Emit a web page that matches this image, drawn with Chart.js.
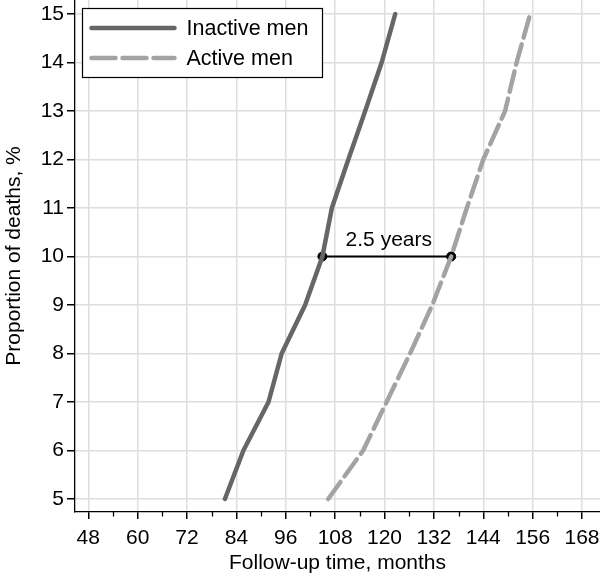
<!DOCTYPE html>
<html>
<head>
<meta charset="utf-8">
<script src="https://cdn.jsdelivr.net/npm/chart.js@4/dist/chart.umd.min.js"></script>
<style>
  html, body { margin: 0; padding: 0; background: #fff; }
  #wrap { width: 600px; height: 576px; position: relative; }
</style>
</head>
<body>
<div id="wrap"><canvas id="c" width="600" height="576"></canvas></div>
<script>
// ---- data ----
const proportions = [5, 6, 7, 8, 9, 10, 11, 12, 13, 14, 15];
const inactiveMonths = [81.2, 85.7, 91.8, 95.0, 100.7, 104.9, 107.2, 111.2, 115.3, 119.3, 122.6];
const activeMonths   = [106.3, 114.8, 120.5, 126.2, 131.6, 136.2, 140.0, 144.0, 149.3, 152.1, 155.4];
const seriesNames = ['Inactive men', 'Active men'];
const gapLevel = 10;
const gapLabel = '2.5 years';
const xMajorTicks = [48, 60, 72, 84, 96, 108, 120, 132, 144, 156, 168];
const xMinorTicks = [54, 66, 78, 90, 102, 114, 126, 138, 150, 162];
const yTicks = [5, 6, 7, 8, 9, 10, 11, 12, 13, 14, 15];
const xTitle = 'Follow-up time, months';
const yTitle = 'Proportion of deaths, %';

const FONT = "'Liberation Sans', Arial, Helvetica, sans-serif";
const DARK = '#666666';
const LIGHT = '#a3a3a3';
const GRID = '#dedede';

const toPts = (xs) => xs.map((x, i) => ({ x: x, y: proportions[i] }));
const gapIdx = proportions.indexOf(gapLevel);
const gapPts = [
  { x: inactiveMonths[gapIdx], y: gapLevel },
  { x: activeMonths[gapIdx], y: gapLevel }
];

const extrasPlugin = {
  id: 'extras',
  afterDatasetsDraw(chart) {
    const ctx = chart.ctx;
    const xs = chart.scales.x, ys = chart.scales.y;
    const area = chart.chartArea;
    ctx.save();
    // minor ticks on x axis
    ctx.strokeStyle = '#000';
    ctx.lineWidth = 1.3;
    xMinorTicks.forEach(v => {
      const px = Math.round(xs.getPixelForValue(v)) + 0.5;
      ctx.beginPath();
      ctx.moveTo(px, area.bottom);
      ctx.lineTo(px, area.bottom + 4.5);
      ctx.stroke();
    });
    // gap label
    const x1 = xs.getPixelForValue(gapPts[0].x);
    const x2 = xs.getPixelForValue(gapPts[1].x);
    const yp = ys.getPixelForValue(gapLevel);
    ctx.fillStyle = '#000';
    ctx.font = '21px ' + FONT;
    ctx.textAlign = 'center';
    ctx.textBaseline = 'alphabetic';
    ctx.fillText(gapLabel, (x1 + x2) / 2 + 2, yp - 11);
    // legend box
    const bx = area.left + 7.5, by = 8.5, bw = 240, bh = 69;
    ctx.fillStyle = '#fff';
    ctx.fillRect(bx, by, bw, bh);
    ctx.strokeStyle = '#000';
    ctx.lineWidth = 1.2;
    ctx.strokeRect(bx, by, bw, bh);
    const rows = [
      { name: seriesNames[0], color: DARK, dash: [] , y: by + 19.5 },
      { name: seriesNames[1], color: LIGHT, dash: [24, 7], y: by + 49.5 }
    ];
    rows.forEach(r => {
      ctx.strokeStyle = r.color;
      ctx.lineWidth = 4.5;
      ctx.lineCap = 'round';
      ctx.setLineDash(r.dash);
      ctx.beginPath();
      ctx.moveTo(bx + 9, r.y);
      ctx.lineTo(bx + 92, r.y);
      ctx.stroke();
      ctx.setLineDash([]);
      ctx.fillStyle = '#000';
      ctx.textAlign = 'left';
      ctx.textBaseline = 'middle';
      ctx.font = '21.5px ' + FONT;
      ctx.fillText(r.name, bx + 104, r.y + 1);
    });
    ctx.restore();
  }
};

new Chart(document.getElementById('c'), {
  type: 'line',
  data: {
    datasets: [
      {
        label: seriesNames[0],
        data: toPts(inactiveMonths),
        borderColor: DARK,
        borderWidth: 4.5,
        borderCapStyle: 'round',
        borderJoinStyle: 'round',
        pointRadius: 0,
        fill: false,
        tension: 0
      },
      {
        label: seriesNames[1],
        data: toPts(activeMonths),
        borderColor: LIGHT,
        borderWidth: 4.5,
        borderDash: [21, 7],
        borderCapStyle: 'round',
        borderJoinStyle: 'round',
        pointRadius: 0,
        fill: false,
        tension: 0
      },
      {
        label: 'gap',
        data: gapPts,
        borderColor: '#000',
        borderWidth: 2.2,
        pointRadius: 4.5,
        pointBackgroundColor: '#000',
        pointBorderColor: '#000',
        pointBorderWidth: 1,
        fill: false
      }
    ]
  },
  options: {
    responsive: false,
    animation: false,
    devicePixelRatio: 1,
    layout: { autoPadding: false, padding: { top: 0, right: 0, bottom: 0, left: 0 } },
    plugins: { legend: { display: false }, tooltip: { enabled: false } },
    scales: {
      x: {
        type: 'linear',
        min: 44.77,
        max: 172.37,
        afterBuildTicks: (s) => { s.ticks = xMajorTicks.map(v => ({ value: v })); },
        afterFit: (s) => { s.height = 64; s.paddingLeft = 0; s.paddingRight = 0; },
        border: { display: true, color: '#000', width: 1.3 },
        grid: { color: GRID, lineWidth: 1.5, tickColor: '#000', tickLength: 7, drawTicks: true },
        ticks: { color: '#000', font: { family: FONT, size: 21 }, padding: 7, maxRotation: 0, autoSkip: false },
        title: { display: true, text: xTitle, color: '#000', font: { family: FONT, size: 21 }, padding: { top: 4, bottom: 0 } }
      },
      y: {
        type: 'linear',
        min: 4.732,
        max: 15.289,
        afterBuildTicks: (s) => { s.ticks = yTicks.map(v => ({ value: v })); },
        afterFit: (s) => { s.width = 75; s.paddingTop = 0; s.paddingBottom = 0; },
        border: { display: true, color: '#000', width: 1.3 },
        grid: { color: GRID, lineWidth: 1.5, tickColor: '#000', tickLength: 8, drawTicks: true },
        ticks: { color: '#000', font: { family: FONT, size: 21 }, padding: 3, autoSkip: false },
        title: { display: true, text: yTitle, color: '#000', font: { family: FONT, size: 21 }, padding: { top: 2, bottom: 0 } }
      }
    }
  },
  plugins: [extrasPlugin]
});
</script>
</body>
</html>
